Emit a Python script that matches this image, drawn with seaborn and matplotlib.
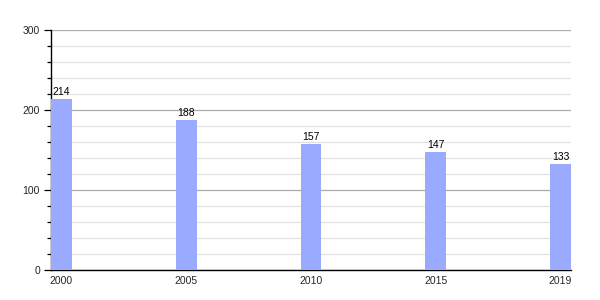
import matplotlib
matplotlib.use("Agg")
import matplotlib.pyplot as plt
import seaborn as sns
import pandas as pd
from matplotlib.ticker import MultipleLocator

years = ["2000", "2005", "2010", "2015", "2019"]
values = [214, 188, 157, 147, 133]

sns.set_theme(style="white")
plt.rcParams['font.family'] = ['Liberation Sans', 'DejaVu Sans']

df = pd.DataFrame({"year": years, "value": values})

fig = plt.figure(figsize=(6, 3), dpi=100)
ax = fig.add_axes([51/600, 30/300, 520/600, 240/300])

sns.barplot(data=df, x="year", y="value", order=years, width=0.168,
            color="#99aaff", saturation=1, linewidth=0, ax=ax, zorder=3)

ax.set_xlim(-0.084, len(years) - 1 + 0.084)
ax.set_ylim(0, 300)
ax.yaxis.set_major_locator(MultipleLocator(100))
ax.yaxis.set_minor_locator(MultipleLocator(20))
ax.grid(axis="y", which="major", color="#aaaaaa", linewidth=0.9, zorder=0)
ax.grid(axis="y", which="minor", color="#e2e2e2", linewidth=0.9, zorder=0)
ax.set_axisbelow(True)

for s in ["top", "right"]:
    ax.spines[s].set_visible(False)
for s in ["left", "bottom"]:
    ax.spines[s].set_color("black")
    ax.spines[s].set_linewidth(1.0)

ax.tick_params(axis="y", which="major", left=True, length=5, width=0.9, color="black", labelsize=7.5, pad=3)
ax.tick_params(axis="y", which="minor", left=True, length=3, width=0.9, color="black")
ax.tick_params(axis="x", which="major", bottom=False, length=0, labelsize=7.5, pad=4)
ax.set_xlabel("")
ax.set_ylabel("")

for i, v in enumerate(values):
    ax.text(i, v + 2.5, str(v), ha="center", va="bottom", fontsize=7.5, color="black")

fig.savefig("out.png", dpi=100)
